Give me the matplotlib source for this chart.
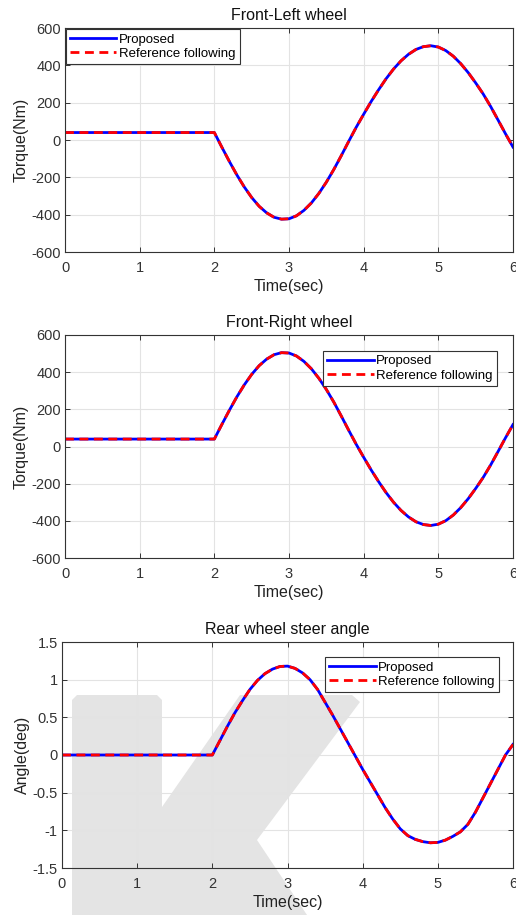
import matplotlib
matplotlib.use("Agg")
import matplotlib.pyplot as plt
from matplotlib.patches import Polygon

plt.rcParams['font.family'] = ['Liberation Sans', 'DejaVu Sans']
plt.rcParams['axes.unicode_minus'] = False

# time axis: flat part then 0.1 s samples from 2 to 6 s
t = [0.0, 1.0, 2.0, 2.1, 2.2, 2.3, 2.4, 2.5, 2.6, 2.7, 2.8, 2.9, 3.0,
     3.1, 3.2, 3.3, 3.4, 3.5, 3.6, 3.7, 3.8, 3.9, 4.0,
     4.1, 4.2, 4.3, 4.4, 4.5, 4.6, 4.7, 4.8, 4.9, 5.0,
     5.1, 5.2, 5.3, 5.4, 5.5, 5.6, 5.7, 5.8, 5.9, 6.0]

fl_torque = [40, 40, 40, -38, -114, -186, -251, -308, -355, -390, -414, -424, -422,
             -406, -377, -337, -286, -226, -158, -84, -7, 68, 138,
             206, 269, 328, 380, 424, 459, 485, 500, 505, 498,
             479, 449, 409, 361, 306, 247, 180, 107, 33, -38]

fr_torque = [40, 40, 40, 118, 194, 266, 331, 388, 435, 470, 494, 505, 503,
             487, 458, 418, 367, 307, 239, 164, 87, 12, -58,
             -126, -189, -248, -300, -344, -379, -405, -420, -425, -418,
             -399, -369, -329, -281, -226, -167, -100, -27, 47, 118]

rear_angle = [0, 0, 0, 0.19, 0.38, 0.56, 0.72, 0.87, 0.99, 1.08, 1.14, 1.175, 1.18,
              1.15, 1.09, 1.00, 0.87, 0.70, 0.53, 0.35, 0.17, -0.01, -0.19,
              -0.36, -0.53, -0.70, -0.85, -0.98, -1.07, -1.12, -1.15, -1.165, -1.16,
              -1.13, -1.08, -1.02, -0.92, -0.76, -0.57, -0.38, -0.19, 0.0, 0.14]

titles = ['Front-Left wheel', 'Front-Right wheel', 'Rear wheel steer angle']
ylabels = ['Torque(Nm)', 'Torque(Nm)', 'Angle(deg)']
torque_ticks = [-600, -400, -200, 0, 200, 400, 600]
angle_ticks = [-1.5, -1, -0.5, 0, 0.5, 1, 1.5]
angle_labels = ['-1.5', '-1', '-0.5', '0', '0.5', '1', '1.5']

fig = plt.figure(figsize=(5.16, 9.15), dpi=100)
W, H = 516, 915

# faint "K" watermark behind the lower panel (pixel coords -> figure fraction)
wm = [(72, 915), (72, 700), (77, 695), (157, 695), (162, 700), (162, 807),
      (240, 695), (352, 695), (360, 702), (257, 840), (307, 915)]
fig.patches.append(Polygon([(x / W, 1 - y / H) for x, y in wm], closed=True,
                           transform=fig.transFigure, facecolor='#e4e4e4',
                           edgecolor='none', zorder=0))

boxes = [(65, 28, 513, 252), (65, 335, 513, 558), (62, 642, 513, 868)]
series = [fl_torque, fr_torque, rear_angle]
leg_pos = [('upper left', (0.0, 1.0)), ('upper right', (0.9665, 0.933)),
           ('upper right', (0.971, 0.938))]

for i in range(3):
    x0, y0, x1, y1 = boxes[i]
    ax = fig.add_axes([x0 / W, 1 - y1 / H, (x1 - x0) / W, (y1 - y0) / H], zorder=1)
    ax.patch.set_facecolor('none')
    ax.plot(t, series[i], color='#0000ff', lw=2.0, label='Proposed')
    ax.plot(t, series[i], color='#ff0000', lw=2.0, ls=(0, (3.2, 2.0)),
            label='Reference following')
    ax.set_xlim(0, 6)
    ax.set_xticks(range(7))
    if i < 2:
        ax.set_ylim(-600, 600)
        ax.set_yticks(torque_ticks)
    else:
        ax.set_ylim(-1.5, 1.5)
        ax.set_yticks(angle_ticks)
        ax.set_yticklabels(angle_labels)
    ax.grid(True, color='#e3e3e3', lw=0.8)
    ax.set_axisbelow(True)
    ax.tick_params(direction='in', top=True, right=True, length=3.5,
                   width=0.7, labelsize=10.5, colors='#333333', pad=3)
    ax.tick_params(axis='x', pad=6.5)
    for s in ax.spines.values():
        s.set_color('#333333')
        s.set_linewidth(0.8)
    ax.set_title(titles[i], fontsize=11.5, color='#111111', pad=6)
    ax.set_xlabel('Time(sec)', fontsize=11.5, color='#222222', labelpad=3)
    ax.set_ylabel(ylabels[i], fontsize=11.5, color='#222222', labelpad=2)
    loc, anchor = leg_pos[i]
    leg = ax.legend(loc=loc, bbox_to_anchor=anchor, fontsize=9.5, handlelength=3.5,
                    handletextpad=0.2, borderpad=0.3, labelspacing=0.15,
                    borderaxespad=0.1, fancybox=False, framealpha=1)
    leg.get_frame().set_edgecolor('#333333')
    leg.get_frame().set_linewidth(0.8)

fig.savefig('out.png', dpi=100)
